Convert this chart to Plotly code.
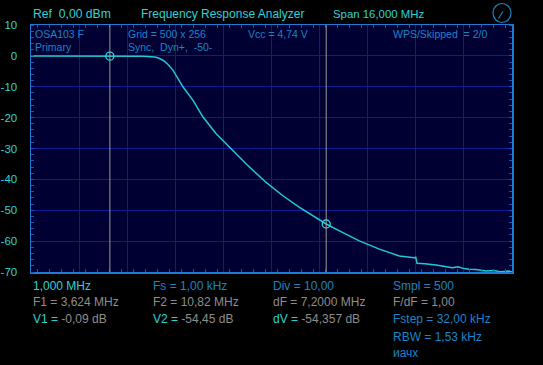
import plotly.graph_objects as go

# ---------------- data ----------------
freq_mhz = [1.0, 2.0, 3.0, 4.0, 4.72, 5.12, 5.22, 5.39, 5.55, 5.72, 5.88, 6.06, 6.39, 6.72,
            7.16, 7.61, 8.16, 8.82, 9.38, 9.93, 10.82, 11.26, 11.92, 12.59, 13.25, 13.75,
            13.80, 13.84, 14.10, 14.47, 14.80, 15.02, 15.20, 15.40, 15.57, 15.80, 16.13,
            16.40, 16.60, 16.90, 17.0]
resp_db = [-0.08, -0.08, -0.09, -0.09, -0.1, -0.4, -0.6, -1.4, -2.7, -4.6, -7.3, -10.1,
           -14.4, -19.8, -25.2, -29.6, -35.0, -41.0, -45.3, -49.1, -54.45, -56.7, -59.9,
           -62.6, -64.8, -65.4, -65.2, -67.2, -67.3, -67.7, -68.1, -68.6, -68.3, -68.9,
           -69.1, -69.2, -69.7, -69.5, -69.9, -69.7, -70.0]
marker_f = [3.624, 10.82]
marker_v = [-0.09, -54.45]
y_ticks = [10, 0, -10, -20, -30, -40, -50, -60, -70]
x_start, x_span = 1.0, 16.0

# ---------------- style ----------------
W, H = 543, 365
L, R, T, B = 31, 31, 25, 93
CYAN = "#2cd2d6"
BLUE = "#1a84c8"
GRAY = "#8e8e8e"
FONT = "Liberation Sans"
GRID = "#0c1e8e"
FRAME = "#1e7cd6"


def px(x):
    return (x - L) / (W - L - R)


def py(y):
    return (H - B - y) / (H - T - B)


fig = go.Figure()

fig.add_trace(go.Scatter(x=freq_mhz, y=resp_db, mode="lines",
                         line=dict(color="#22c8d6", width=1.5), hoverinfo="skip"))

# marker lines
for f in marker_f:
    fig.add_shape(type="line", xref="x", yref="paper", x0=f, x1=f, y0=0, y1=1,
                  line=dict(color="#9a9a9a", width=1))

fig.add_trace(go.Scatter(x=marker_f, y=marker_v, mode="markers",
                         marker=dict(symbol="circle-open", size=8,
                                     color="#2ad6da", line=dict(width=1.3)),
                         hoverinfo="skip"))

# dial icon
fig.add_shape(type="circle", xref="paper", yref="paper",
              x0=px(493), x1=px(511), y0=py(22.5), y1=py(3.5),
              line=dict(color="#1a84c8", width=1.2))
fig.add_shape(type="line", xref="paper", yref="paper",
              x0=px(498.5), x1=px(503), y0=py(18.5), y1=py(11.5),
              line=dict(color="#1a84c8", width=1.2))


def ann(x, y, text, color, size=12):
    fig.add_annotation(xref="paper", yref="paper", x=px(x), y=py(y), text=text,
                       showarrow=False, xanchor="left", yanchor="middle",
                       font=dict(family=FONT, size=size, color=color))


# top header
ann(31, 13.5, "Ref  0,00 dBm", CYAN, 12.2)
ann(138.5, 13.5, "Frequency Response Analyzer", CYAN, 12)
ann(330.5, 13.5, "Span 16,000 MHz", CYAN, 11.4)

# inside labels
ann(33, 33.5, "OSA103 F", BLUE, 10.5)
ann(33, 47, "Primary", BLUE, 10.5)
ann(126, 33.5, "Grid = 500 x 256", BLUE, 10.5)
ann(126, 47, "Sync,  Dyn+,  -50-", BLUE, 10.5)
ann(246, 33.5, "Vcc = 4,74 V", BLUE, 10.5)
ann(391, 33.5, "WPS/Skipped  = 2/0", BLUE, 10.5)


def span(t, c):
    return f'<span style="color:{c}">{t}</span>'


cols = [31, 151, 271, 391]
rows = [285.5, 302, 319, 336.5, 353]
ann(cols[0], rows[0], "1,000 MHz", CYAN)
ann(cols[1], rows[0], "Fs = 1,00 kHz", BLUE)
ann(cols[2], rows[0], "Div = 10,00", BLUE)
ann(cols[3], rows[0], "Smpl = 500", BLUE)
ann(cols[0], rows[1], "F1 = 3,624 MHz", GRAY)
ann(cols[1], rows[1], "F2 = 10,82 MHz", GRAY)
ann(cols[2], rows[1], "dF = 7,2000 MHz", GRAY)
ann(cols[3], rows[1], "F/dF = 1,00", GRAY)
ann(cols[0], rows[2], span("V1 = ", CYAN) + span("-0,09 dB", GRAY), GRAY)
ann(cols[1], rows[2], span("V2 = ", CYAN) + span("-54,45 dB", GRAY), GRAY)
ann(cols[2], rows[2], span("dV = ", CYAN) + span("-54,357 dB", GRAY), GRAY)
ann(cols[3], rows[2], "Fstep = 32,00 kHz", BLUE)
ann(cols[3], rows[3], "RBW = 1,53 kHz", BLUE)
ann(cols[3], rows[4], "иачх", BLUE)

fig.update_layout(
    width=W, height=H,
    margin=dict(l=L, r=R, t=T, b=B, pad=0, autoexpand=False),
    paper_bgcolor="#000000",
    plot_bgcolor="#000032",
    showlegend=False,
    xaxis=dict(range=[x_start, x_start + x_span], tick0=x_start, dtick=x_span / 10,
               showticklabels=False, showgrid=True, gridcolor=GRID, gridwidth=1,
               zeroline=False, showline=True, linecolor=FRAME, linewidth=1.5,
               mirror="allticks", ticks="", automargin=False,
               minor=dict(ticks="inside", ticklen=3, dtick=x_span / 40,
                          tickcolor="#1a50b8", showgrid=False)),
    yaxis=dict(range=[-70, 10], tickvals=y_ticks, ticktext=[str(v) for v in y_ticks],
               showgrid=True, gridcolor=GRID, gridwidth=1, zeroline=False,
               showline=True, linecolor=FRAME, linewidth=1.5, mirror="allticks",
               ticks="", ticklabelstandoff=10, automargin=False,
               tickfont=dict(family=FONT, size=11.5, color=CYAN),
               minor=dict(ticks="inside", ticklen=3, dtick=2, tick0=0,
                          tickcolor="#1a50b8", showgrid=False)),
)

fig.write_html("out.html", config={"displayModeBar": False, "staticPlot": True},
               post_script="document.body.style.margin='0';document.body.style.background='#000';")
